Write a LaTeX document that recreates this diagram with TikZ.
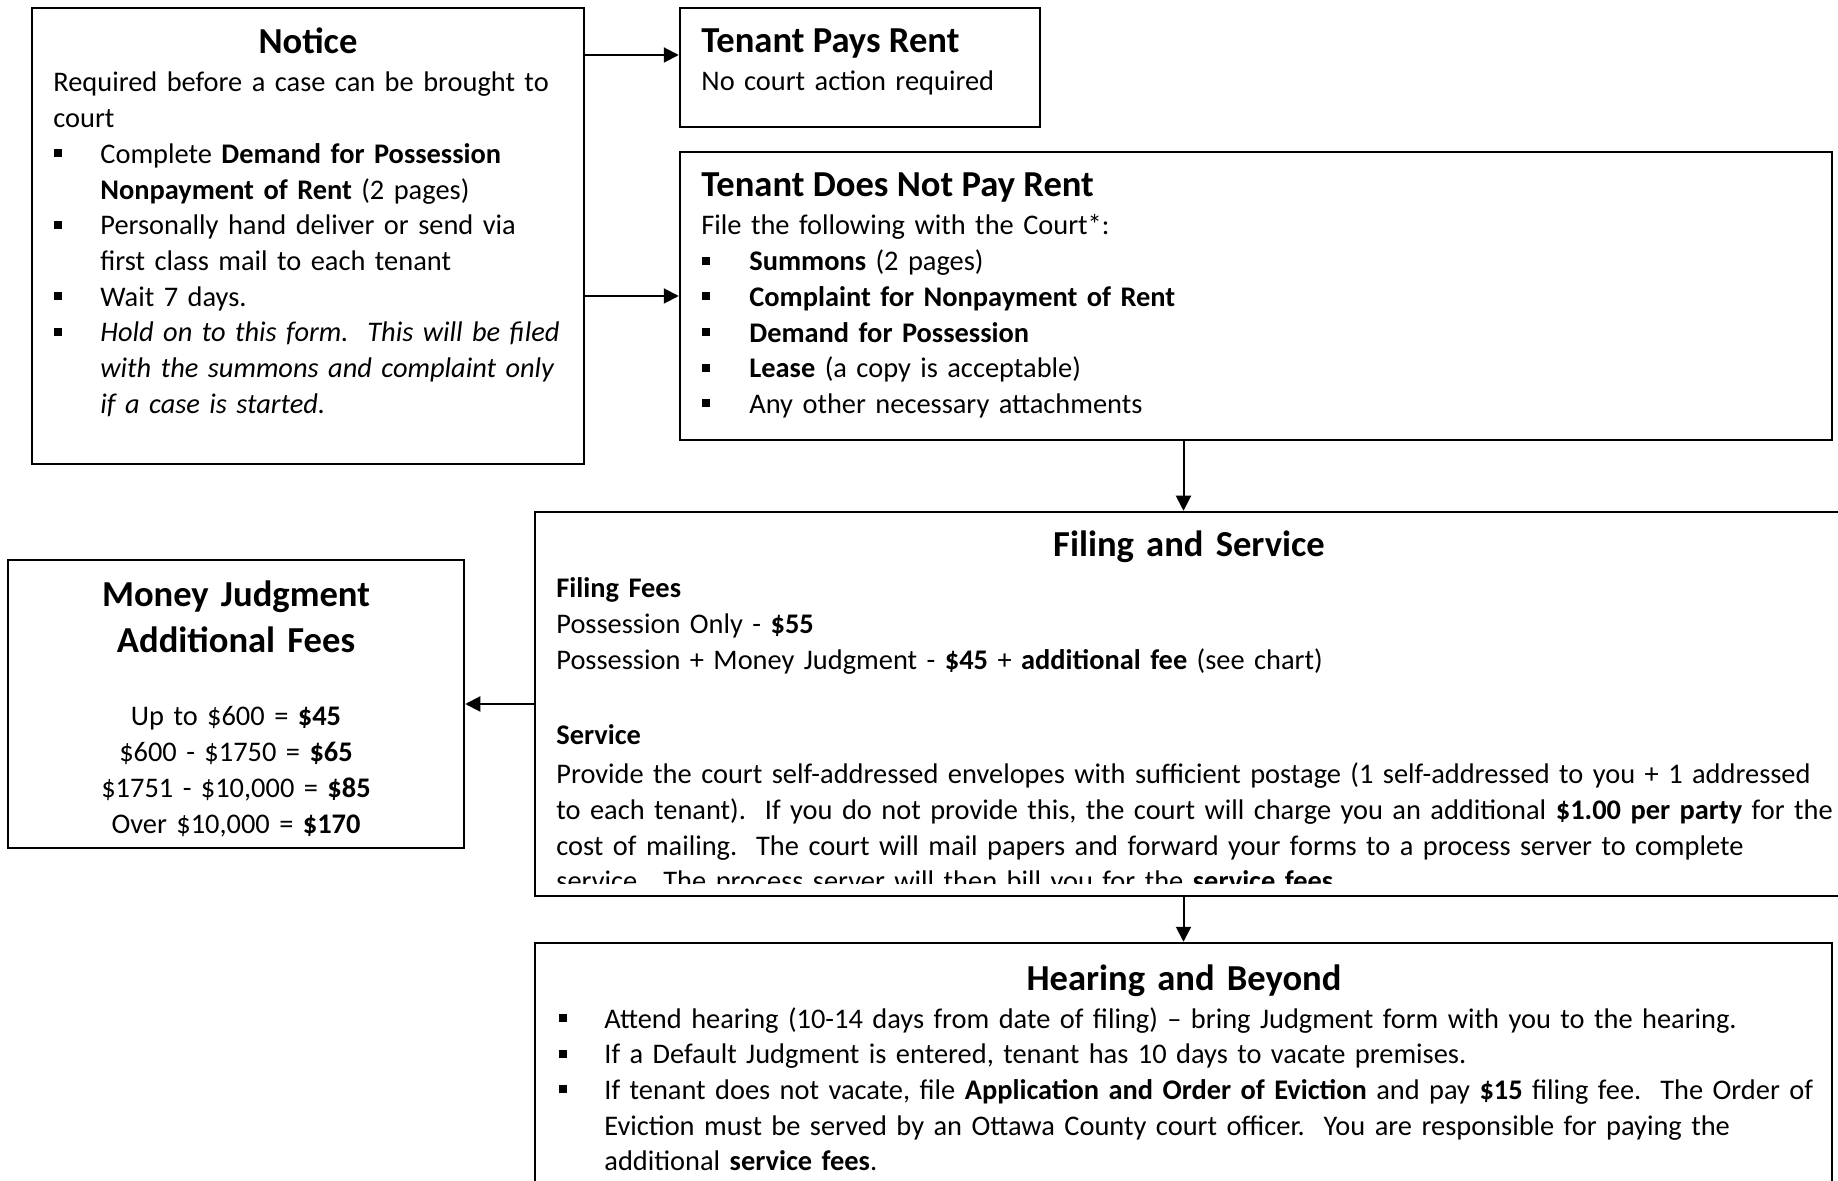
\documentclass[tikz,border=0pt]{standalone}
\usepackage{fontspec}
\setmainfont{Carlito}
\usetikzlibrary{arrows.meta,fit}
\newcommand\bodyfont{\fontsize{14.2pt}{17.85pt}\selectfont}
\newcommand\headfont{\fontsize{18.3pt}{22.6pt}\selectfont\bfseries}
\newcommand\bitem[2][23.5pt]{\hangindent=#1\hangafter=1\ifvmode\noindent\fi\makebox[#1][l]{\hspace{0.5pt}\rule[3pt]{4pt}{4pt}}#2\par}
\tikzset{
  box/.style={draw, line width=1.25pt, inner sep=0pt},
  conn/.style={line width=1pt, -{Triangle[length=7.5pt,width=7.5pt]}},
  body/.style={anchor=base west, inner sep=0pt, text width=#1, align=left, font=\bodyfont},
  ttl/.style={anchor=base west, inner sep=0pt, font=\headfont},
  cttl/.style={anchor=base, inner sep=0pt, text width=#1, align=center, font=\headfont},
}
\begin{document}
\begin{tikzpicture}[x=0.5pt,y=-0.5pt]
\clip (0,0) rectangle (1838,1181);
% boxes
\node[box, fit={(32,8) (584,464)}] (notice) {};
\node[box, fit={(680,8) (1040,127)}] (tpr) {};
\node[box, fit={(680,152) (1832,440)}] (tdnp) {};
\node[box, fit={(535,512) (1843,896)}] (filing) {};
\node[box, fit={(8,560) (464,848)}] (money) {};
\node[box, fit={(535,943) (1832,1220)}] (hearing) {};
% Notice
\node[cttl=270pt] (noticeT) at (308,54) {Notice};
\node[body=290pt] (noticeB) at (53,92) {Required before a case can be brought to\\court\par
\bitem{Complete \textbf{Demand for Possession}\newline\textbf{Nonpayment of Rent} (2 pages)}
\bitem{Personally hand deliver or send via\newline first class mail to each tenant}
\bitem{Wait 7 days.}
\bitem{\textit{Hold on to this form.\ \ This will be filed\newline with the summons and complaint only\newline if a case is started.}}};
% Tenant pays rent
\node[ttl] (tprT) at (701,53) {Tenant Pays Rent};
\node[body=170pt] (tprB) at (701,91) {No court action required};
% Tenant does not pay rent
\node[ttl] (tdnpT) at (701,197) {Tenant Does Not Pay Rent};
\node[body=400pt] (tdnpB) at (701,235) {File the following with the Court*:\par
\bitem[24pt]{\textbf{Summons} (2 pages)}
\bitem[24pt]{\textbf{Complaint for Nonpayment of Rent}}
\bitem[24pt]{\textbf{Demand for Possession}}
\bitem[24pt]{\textbf{Lease} (a copy is acceptable)}
\bitem[24pt]{Any other necessary attachments}};
% Filing and service
\node[cttl=600pt] (filingT) at (1189,557) {Filing and Service};
\begin{scope}
\clip (535,512) rectangle (1838,883);
\node[body=680pt] (filingB) at (556,598) {\textbf{Filing Fees}\\
Possession Only - \textbf{\$55}\\
Possession + Money Judgment - \textbf{\$45} + \textbf{additional fee} (see chart)\\[19.5pt]
\textbf{Service}\\[2pt]
Provide the court self-addressed envelopes with sufficient postage (1 self-addressed to you + 1 addressed\\
to each tenant).\ \ If you do not provide this, the court will charge you an additional \textbf{\$1.00 per party} for the\\
cost of mailing.\ \ The court will mail papers and forward your forms to a process server to complete\\
service.\ \ The process server will then bill you for the \textbf{service fees}.};
\end{scope}
% Money judgment
\node[cttl=220pt] (moneyT) at (236,607) {Money Judgment\\Additional Fees};
\node[anchor=base, inner sep=0pt, text width=220pt, align=center, font=\bodyfont] (moneyB) at (236,726) {Up to \$600 = \textbf{\$45}\\
\$600 - \$1750 = \textbf{\$65}\\
\$1751 - \$10,000 = \textbf{\$85}\\
Over \$10,000 = \textbf{\$170}};
% Hearing and beyond
\node[cttl=600pt] (hearingT) at (1184,990) {Hearing and Beyond};
\node[body=680pt] (hearingB) at (558,1028) {\bitem[23pt]{Attend hearing (10-14 days from date of filing) – bring Judgment form with you to the hearing.}
\bitem[23pt]{If a Default Judgment is entered, tenant has 10 days to vacate premises.}
\bitem[23pt]{If tenant does not vacate, file \textbf{Application and Order of Eviction} and pay \textbf{\$15} filing fee.\ \ The Order of\newline Eviction must be served by an Ottawa County court officer.\ \ You are responsible for paying the\newline additional \textbf{service fees}.}};
% connectors
\draw[conn] (notice.east |- 0,55) -- (tpr.west |- 0,55);
\draw[conn] (notice.east |- tdnp.west) -- (tdnp.west);
\draw[conn] (tdnp.south -| hearing.north) -- (filing.north -| hearing.north);
\draw[conn] (filing.west) -- (money.east);
\draw[conn] (filing.south -| hearing.north) -- (hearing.north);
\end{tikzpicture}
\end{document}
